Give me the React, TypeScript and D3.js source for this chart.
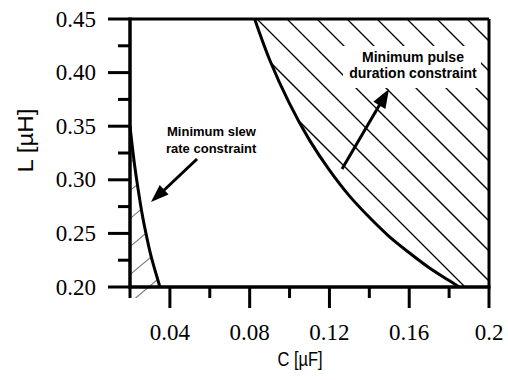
import React from "react";
import * as d3 from "d3";

// Axis ticks and labels
const xMajorTicks = [0.04, 0.08, 0.12, 0.16, 0.2];
const xMinorTicks = [0.02, 0.06, 0.1, 0.14, 0.18];
const xTickLabels = ["0.04", "0.08", "0.12", "0.16", "0.2"];
const yMajorTicks = [0.2, 0.25, 0.3, 0.35, 0.4, 0.45];
const yMinorTicks = [0.225, 0.275, 0.325, 0.375, 0.425];
const yTickLabels = ["0.20", "0.25", "0.30", "0.35", "0.40", "0.45"];

// Minimum slew rate constraint boundary (C in µF, L in µH)
const slewC = [0.02, 0.022, 0.024, 0.026, 0.028, 0.03, 0.032, 0.035];
const slewL = [0.35, 0.318, 0.292, 0.269, 0.25, 0.233, 0.219, 0.2];

// Minimum pulse duration constraint boundary
const pulseC = [0.0825, 0.09, 0.1, 0.11, 0.12, 0.13, 0.14, 0.15, 0.16, 0.17, 0.18, 0.185];
const pulseL = [0.45, 0.412, 0.371, 0.337, 0.309, 0.285, 0.265, 0.247, 0.232, 0.218, 0.206, 0.2];

const W = 508;
const H = 380;
const M = { left: 130, right: 489, top: 19, bottom: 287 };

export default function App() {
  const x = d3.scaleLinear().domain([0.02, 0.2]).range([M.left, M.right]);
  const y = d3.scaleLinear().domain([0.2, 0.45]).range([M.bottom, M.top]);

  const slewPts: [number, number][] = slewC.map((c, i) => [x(c), y(slewL[i])]);
  const pulsePts: [number, number][] = pulseC.map((c, i) => [x(c), y(pulseL[i])]);

  const curve = d3
    .line()
    .x((d) => d[0])
    .y((d) => d[1])
    .curve(d3.curveNatural);

  const slewPath = curve(slewPts) as string;
  const pulsePath = curve(pulsePts) as string;

  // Region right of the pulse-duration boundary
  const pulseRegion =
    pulsePath + `L${x(0.2)},${y(0.2)}L${x(0.2)},${y(0.45)}Z`;
  // Region left of the slew-rate boundary (slightly past the axis at the bottom)
  const last = slewPts[slewPts.length - 1];
  const slewRegion =
    slewPath + `L${last[0] + 2.6},${M.bottom + 11}L${M.left},${M.bottom + 11}Z`;

  // Hatching for the pulse region: 45° lines, 30px apart along the axes
  const rightHatch: number[] = d3.range(148, 490, 30);
  // Hatching for the slew region: light rising lines
  const leftHatch: number[] = d3.range(161, 330, 28);
  const leftSlope = 0.84;

  const sans = "Liberation Sans, Arial, sans-serif";
  const serif = "Liberation Serif, Times New Roman, serif";

  const arrowHead = (x1: number, y1: number, x2: number, y2: number, len: number, wid: number) => {
    const a = Math.atan2(y2 - y1, x2 - x1);
    const bx = x2 - len * Math.cos(a);
    const by = y2 - len * Math.sin(a);
    const px = (wid / 2) * Math.sin(a);
    const py = (wid / 2) * Math.cos(a);
    return `M${x2},${y2}L${bx + px},${by - py}L${bx - px},${by + py}Z`;
  };

  return (
    <div style={{ position: "absolute", left: 0, top: 0 }}>
      <svg width={W} height={H} viewBox={`0 0 ${W} ${H}`} style={{ display: "block", background: "#fff" }}>
        <defs>
          <clipPath id="pulseClip">
            <path d={pulseRegion} />
          </clipPath>
          <clipPath id="slewClip">
            <path d={slewRegion} />
          </clipPath>
        </defs>
        <rect x={0} y={0} width={W} height={H} fill="#fff" />

        {/* hatching */}
        <g clipPath="url(#pulseClip)" stroke="#000" strokeWidth={1.3}>
          {rightHatch.map((c) => (
            <line key={c} x1={c + M.top} y1={M.top} x2={c + M.bottom} y2={M.bottom} />
          ))}
        </g>
        <g clipPath="url(#slewClip)" stroke="#777" strokeWidth={1.1}>
          {leftHatch.map((y0) => (
            <line key={y0} x1={M.left} y1={y0 + leftSlope * 2} x2={M.left + 60} y2={y0 - leftSlope * 58} />
          ))}
        </g>

        {/* label backgrounds interrupt the hatching */}
        <rect x={343} y={46} width={138} height={42} fill="#fff" />

        {/* constraint boundaries */}
        <path d={slewPath} fill="none" stroke="#000" strokeWidth={3} />
        <path d={pulsePath} fill="none" stroke="#000" strokeWidth={3} />

        {/* frame */}
        <g stroke="#000" strokeLinecap="butt">
          <line x1={M.left} y1={M.top} x2={M.right} y2={M.top} strokeWidth={3} />
          <line x1={M.right} y1={M.top} x2={M.right} y2={M.bottom} strokeWidth={3} />
          <line x1={M.left} y1={M.top - 1.5} x2={M.left} y2={M.bottom + 1.5} strokeWidth={3.5} />
          <line x1={M.left - 1.5} y1={M.bottom} x2={M.right + 1.5} y2={M.bottom} strokeWidth={3.5} />
        </g>

        {/* ticks */}
        <g stroke="#000" strokeWidth={3}>
          {xMajorTicks.map((t) => (
            <line key={"xM" + t} x1={x(t)} x2={x(t)} y1={M.bottom} y2={M.bottom + 21} />
          ))}
          {xMinorTicks.map((t) => (
            <line key={"xm" + t} x1={x(t)} x2={x(t)} y1={M.bottom} y2={M.bottom + 11} />
          ))}
          {yMajorTicks.map((t) => (
            <line key={"yM" + t} x1={M.left - 22} x2={M.left} y1={y(t)} y2={y(t)} />
          ))}
          {yMinorTicks.map((t) => (
            <line key={"ym" + t} x1={M.left - 12} x2={M.left} y1={y(t)} y2={y(t)} />
          ))}
        </g>

        {/* tick labels */}
        <g fontFamily={serif} fontSize={23} fill="#000">
          {xMajorTicks.map((t, i) => (
            <text key={"xl" + t} x={x(t)} y={340} textAnchor="middle">
              {xTickLabels[i]}
            </text>
          ))}
          {yMajorTicks.map((t, i) => (
            <text key={"yl" + t} x={96} y={y(t) + 7.5} textAnchor="end">
              {yTickLabels[i]}
            </text>
          ))}
        </g>

        {/* axis titles */}
        <text x={300} y={366} textAnchor="middle" fontFamily={sans} fontSize={21} textLength={45} lengthAdjust="spacingAndGlyphs">
          C [µF]
        </text>
        <text
          transform={`translate(33,140.5) rotate(-90)`}
          textAnchor="middle"
          fontFamily={sans}
          fontSize={22}
          textLength={64}
          lengthAdjust="spacingAndGlyphs"
        >
          L [µH]
        </text>

        {/* annotations */}
        <g fontFamily={sans} fontWeight="bold" fill="#000">
          <text x={167} y={136} fontSize={13}>Minimum slew</text>
          <text x={166} y={153} fontSize={13}>rate constraint</text>
          <text x={413} y={62} fontSize={14} textAnchor="middle">Minimum pulse</text>
          <text x={413} y={78} fontSize={14} textAnchor="middle">duration constraint</text>
        </g>

        {/* arrows */}
        <line x1={197} y1={159} x2={160} y2={194} stroke="#000" strokeWidth={3} />
        <path d={arrowHead(197, 159, 151, 202, 18, 13)} fill="#000" />
        <line x1={342} y1={169} x2={383} y2={99} stroke="#000" strokeWidth={3} />
        <path d={arrowHead(342, 169, 389, 89, 19, 14)} fill="#000" />
      </svg>
    </div>
  );
}
